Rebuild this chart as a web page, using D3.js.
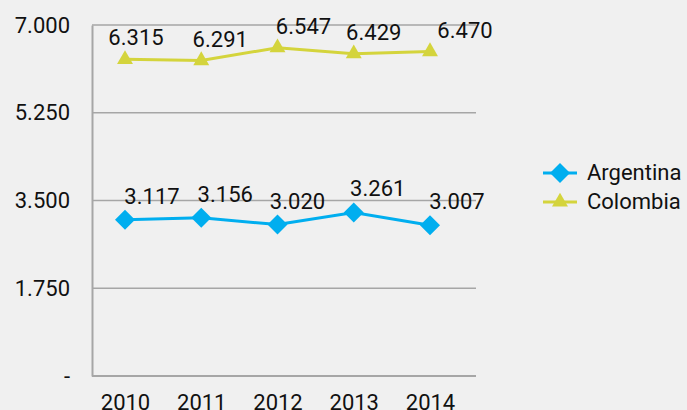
<!DOCTYPE html>
<html><head><meta charset="utf-8">
<script src="https://cdn.jsdelivr.net/npm/d3@7"></script>
<style>
html,body{margin:0;padding:0;background:#f0f0f0;}
svg{display:block;font-family:Roboto, "Noto Sans", sans-serif;}
</style></head>
<body>
<svg id="chart" width="687" height="410"></svg>
<script>
const years = ["2010","2011","2012","2013","2014"];
const argentina = [3.117, 3.156, 3.020, 3.261, 3.007];
const colombia = [6.315, 6.291, 6.547, 6.429, 6.470];
const argentinaLabels = ["3.117","3.156","3.020","3.261","3.007"];
const colombiaLabels = ["6.315","6.291","6.547","6.429","6.470"];
const yTicks = [0, 1.75, 3.5, 5.25, 7];
const yTickLabels = ["-", "1.750", "3.500", "5.250", "7.000"];
const seriesNames = ["Argentina", "Colombia"];

// layout
const plot = {left: 92, right: 476, top: 25, bottom: 376};
const svg = d3.select("#chart");
const fontSize = 22;
const gridColor = "#a6a6a6";
const colors = {Argentina: "#00aeef", Colombia: "#d4d43c"};

const x = d3.scalePoint().domain(years).range([125, 430]);
const y = d3.scaleLinear().domain([0, 7]).range([plot.bottom, plot.top]);

// gridlines
svg.append("g").selectAll("line").data(yTicks.filter(d => d > 0)).join("line")
  .attr("x1", plot.left).attr("x2", plot.right)
  .attr("y1", d => y(d)).attr("y2", d => y(d))
  .attr("stroke", gridColor).attr("stroke-width", 1.5);

// y axis
const yAxis = d3.axisLeft(y).tickValues(yTicks).tickSize(0).tickPadding(22)
  .tickFormat((d, i) => yTickLabels[i]);
const gy = svg.append("g").attr("transform", `translate(${plot.left},0)`).call(yAxis);
gy.select(".domain").attr("stroke", gridColor).attr("stroke-width", 2);
gy.selectAll("text").attr("font-size", fontSize).attr("fill", "#111")
  .attr("font-family", "Roboto, sans-serif");

// x axis
const xAxis = d3.axisBottom(x).tickSize(0).tickPadding(18);
const gx = svg.append("g").attr("transform", `translate(0,${plot.bottom})`).call(xAxis);
gx.select(".domain").remove();
gx.selectAll("text").attr("font-size", fontSize).attr("fill", "#111")
  .attr("font-family", "Roboto, sans-serif");
svg.append("line").attr("x1", plot.left).attr("x2", plot.right)
  .attr("y1", plot.bottom).attr("y2", plot.bottom)
  .attr("stroke", gridColor).attr("stroke-width", 2);

const diamond = d3.symbol().type(d3.symbolSquare).size(200);
const triangle = d3.symbol().type(d3.symbolTriangle).size(110);

const series = [
  {name: "Argentina", values: argentina, labels: argentinaLabels, sym: diamond, rot: 45,
   nudgeX: [27, 24, 20, 24, 27], nudgeY: -16},
  {name: "Colombia", values: colombia, labels: colombiaLabels, sym: triangle, rot: 0,
   nudgeX: [11, 19, 26, 20, 35], nudgeY: -14}
];

const line = d3.line().x((d, i) => x(years[i])).y(d => y(d));

series.forEach(s => {
  const g = svg.append("g");
  g.append("path").datum(s.values).attr("d", line)
    .attr("fill", "none").attr("stroke", colors[s.name]).attr("stroke-width", 3);
  g.selectAll("path.m").data(s.values).join("path").attr("class", "m")
    .attr("d", s.sym)
    .attr("transform", (d, i) => `translate(${x(years[i])},${y(d)}) rotate(${s.rot})`)
    .attr("fill", colors[s.name]);
  g.selectAll("text").data(s.values).join("text")
    .attr("x", (d, i) => x(years[i]) + s.nudgeX[i])
    .attr("y", d => y(d) + s.nudgeY)
    .attr("text-anchor", "middle")
    .attr("font-size", fontSize).attr("fill", "#111")
    .text((d, i) => s.labels[i]);
});

// legend
const legend = svg.append("g");
series.forEach((s, i) => {
  const ly = 173 + i * 29;
  legend.append("line").attr("x1", 543).attr("x2", 577).attr("y1", ly).attr("y2", ly)
    .attr("stroke", colors[s.name]).attr("stroke-width", 3);
  legend.append("path").attr("d", s.sym)
    .attr("transform", `translate(560,${ly}) rotate(${s.rot})`)
    .attr("fill", colors[s.name]);
  legend.append("text").attr("x", 587).attr("y", ly + 7)
    .attr("font-size", fontSize).attr("fill", "#111").text(seriesNames[i]);
});
</script>
</body></html>
